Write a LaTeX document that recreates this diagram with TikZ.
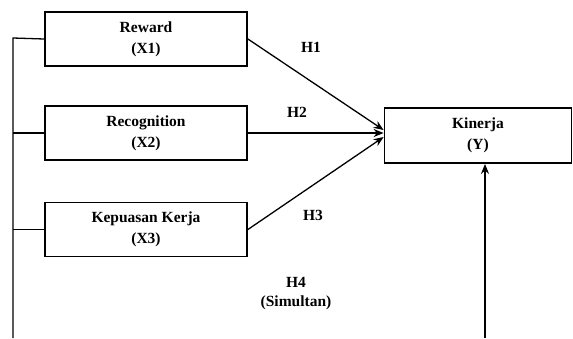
\documentclass[tikz,border=0pt]{standalone}
\usepackage{fontspec}
\setmainfont{Liberation Serif}
\usetikzlibrary{arrows.meta}
\begin{document}
\begin{tikzpicture}[x=1pt,y=-1pt,
  varbox/.style={draw,line width=1.8pt,minimum width=202pt,minimum height=54pt,inner sep=0pt,
    align=center,font=\fontsize{15.5}{21}\selectfont\bfseries},
  lbl/.style={align=center,font=\fontsize{15.5}{19}\selectfont\bfseries,inner sep=0pt},
  conn/.style={line width=1.3pt},
  arr/.style={line width=1.3pt,-{Stealth[length=10pt,width=8pt]}}]
\useasboundingbox (0,0) rectangle (573,338);
\node[varbox] (r) at (146,39) {Reward\\(X1)};
\node[varbox] (rc) at (146,133) {Recognition\\(X2)};
\node[varbox] (kp) at (146,229.5) {Kepuasan Kerja\\(X3)};
\node[varbox,minimum width=187pt,minimum height=55pt] (ky) at (478,135.5) {Kinerja\\(Y)};
\coordinate (top) at (13,38);
\coordinate (bl) at (13,338);
\coordinate (br) at (485,338);
\draw[conn] (r.west) -- (top) -- (bl);
\draw[conn] (rc.west) -- (rc.west -| top);
\draw[conn] (kp.west) -- (kp.west -| top);
\draw[arr] (r.east) -- ([yshift=5.5pt]ky.west);
\draw[arr] (rc.east) -- ([yshift=2.5pt]ky.west);
\draw[arr] (kp.east) -- ([yshift=-1.5pt]ky.west);
\draw[arr] (br) -- (br |- ky.south);
\node[lbl] (h1) at (311,47) {H1};
\node[lbl] (h2) at (297,112) {H2};
\node[lbl] (h3) at (313,215) {H3};
\node[lbl] (h4) at (296,293.5) {H4\\(Simultan)};
\end{tikzpicture}
\end{document}
